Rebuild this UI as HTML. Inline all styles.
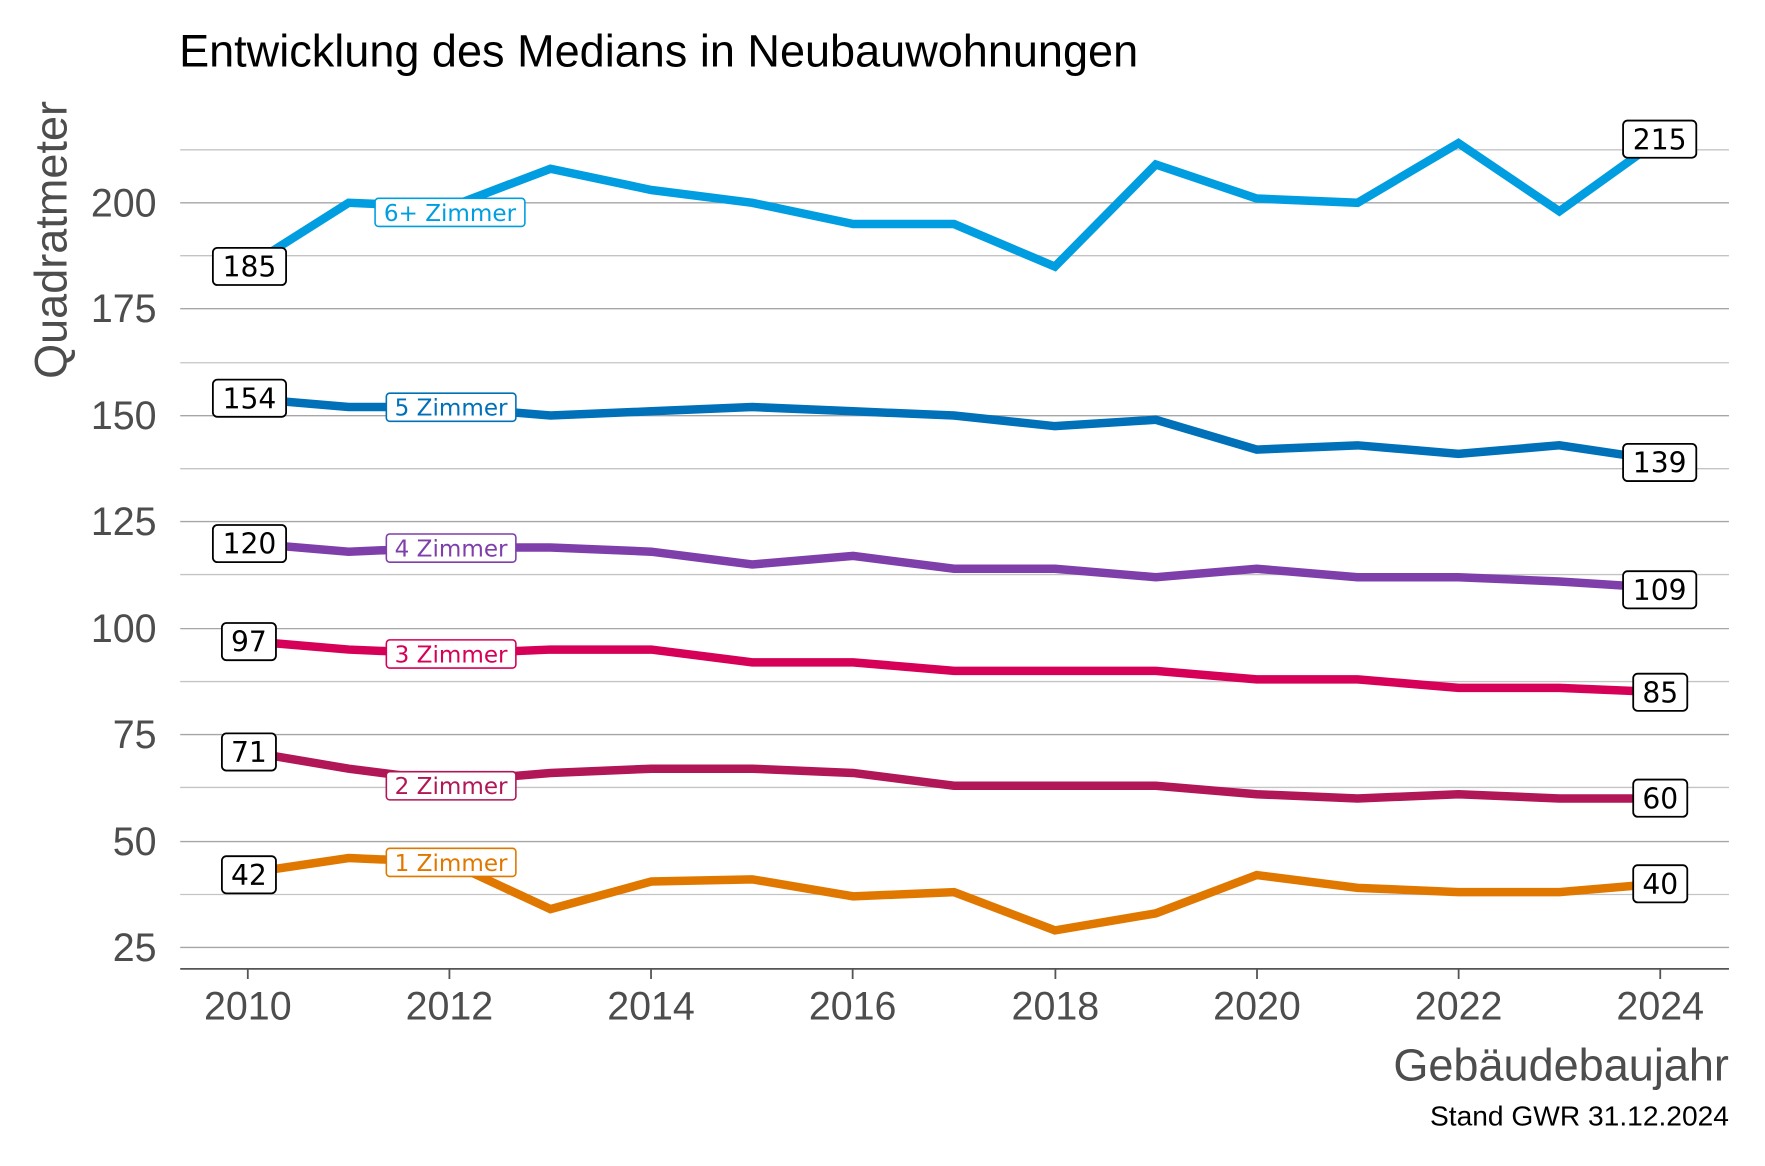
<!DOCTYPE html>
<html><head><meta charset="utf-8"><style>
html,body{margin:0;padding:0;background:#fff;}
svg{display:block;}
.tk{font-family:"Liberation Sans",sans-serif;font-size:35px;fill:#4d4d4d;}
.vl{font-family:"DejaVu Sans",sans-serif;font-size:25px;fill:#000;}
.nl{font-family:"DejaVu Sans",sans-serif;font-size:20.5px;}
</style></head><body>
<svg width="1765" height="1166" viewBox="0 0 1567 1035" preserveAspectRatio="none" xmlns="http://www.w3.org/2000/svg">
<rect width="1567" height="1035" fill="#fff"/>
<text x="159" y="59" font-family="Liberation Sans,sans-serif" font-size="40" fill="#000">Entwicklung des Medians in Neubauwohnungen</text>
<text transform="translate(59,213) rotate(-90)" text-anchor="middle" font-family="Liberation Sans,sans-serif" font-size="40" fill="#4d4d4d">Quadratmeter</text>
<g stroke-width="1.2">
<line x1="160" x2="1535" y1="133" y2="133" stroke="#c4c4c4"/>
<line x1="160" x2="1535" y1="227" y2="227" stroke="#c4c4c4"/>
<line x1="160" x2="1535" y1="322" y2="322" stroke="#c4c4c4"/>
<line x1="160" x2="1535" y1="416" y2="416" stroke="#c4c4c4"/>
<line x1="160" x2="1535" y1="510" y2="510" stroke="#c4c4c4"/>
<line x1="160" x2="1535" y1="605" y2="605" stroke="#c4c4c4"/>
<line x1="160" x2="1535" y1="699" y2="699" stroke="#c4c4c4"/>
<line x1="160" x2="1535" y1="794" y2="794" stroke="#c4c4c4"/>
<line x1="160" x2="1535" y1="180" y2="180" stroke="#a6a6a6"/>
<line x1="160" x2="1535" y1="274" y2="274" stroke="#a6a6a6"/>
<line x1="160" x2="1535" y1="369" y2="369" stroke="#a6a6a6"/>
<line x1="160" x2="1535" y1="463" y2="463" stroke="#a6a6a6"/>
<line x1="160" x2="1535" y1="558" y2="558" stroke="#a6a6a6"/>
<line x1="160" x2="1535" y1="652" y2="652" stroke="#a6a6a6"/>
<line x1="160" x2="1535" y1="747" y2="747" stroke="#a6a6a6"/>
<line x1="160" x2="1535" y1="841" y2="841" stroke="#a6a6a6"/>
</g>
<line x1="160" x2="1535" y1="860" y2="860" stroke="#555" stroke-width="1.6"/>
<g stroke="#555" stroke-width="1.6">
<line x1="220" x2="220" y1="860" y2="869"/><line x1="399" x2="399" y1="860" y2="869"/><line x1="578" x2="578" y1="860" y2="869"/><line x1="757" x2="757" y1="860" y2="869"/><line x1="937" x2="937" y1="860" y2="869"/><line x1="1116" x2="1116" y1="860" y2="869"/><line x1="1295" x2="1295" y1="860" y2="869"/><line x1="1474" x2="1474" y1="860" y2="869"/>
</g>
<g class="tk" text-anchor="end">
<text x="139" y="192">200</text><text x="139" y="286">175</text><text x="139" y="381">150</text><text x="139" y="475">125</text><text x="139" y="570">100</text><text x="139" y="664">75</text><text x="139" y="759">50</text><text x="139" y="853">25</text>
</g>
<g class="tk" text-anchor="middle">
<text x="220" y="905">2010</text><text x="399" y="905">2012</text><text x="578" y="905">2014</text><text x="757" y="905">2016</text><text x="937" y="905">2018</text><text x="1116" y="905">2020</text><text x="1295" y="905">2022</text><text x="1474" y="905">2024</text>
</g>
<text x="1535" y="959" text-anchor="end" font-family="Liberation Sans,sans-serif" font-size="40" fill="#4d4d4d">Gebäudebaujahr</text>
<text x="1535" y="999" text-anchor="end" font-family="Liberation Sans,sans-serif" font-size="25" fill="#000">Stand GWR 31.12.2024</text>

<g transform="matrix(89.57 0 0 -3.777 220 935.4)" fill="none" stroke-linejoin="miter">
<polyline vector-effect="non-scaling-stroke" stroke="#009ee0" stroke-width="8.5" points="0,185 1,200 2,199 3,208 4,203 5,200 6,195 7,195 8,185 9,209 10,201 11,200 12,214 13,198 14,215"/>
<polyline vector-effect="non-scaling-stroke" stroke="#0070b8" stroke-width="8.5" points="0,154 1,152 2,152 3,150 4,151 5,152 6,151 7,150 8,147.5 9,149 10,142 11,143 12,141 13,143 14,139.5"/>
<polyline vector-effect="non-scaling-stroke" stroke="#7f3fab" stroke-width="8.5" points="0,120 1,118 2,119 3,119 4,118 5,115 6,117 7,114 8,114 9,112 10,114 11,112 12,112 13,111 14,109.5"/>
<polyline vector-effect="non-scaling-stroke" stroke="#d60058" stroke-width="8.5" points="0,97 1,95 2,94 3,95 4,95 5,92 6,92 7,90 8,90 9,90 10,88 11,88 12,86 13,86 14,85"/>
<polyline vector-effect="non-scaling-stroke" stroke="#b11657" stroke-width="8.5" points="0,71 1,67 2,64 3,66 4,67 5,67 6,66 7,63 8,63 9,63 10,61 11,60 12,61 13,60 14,60"/>
<polyline vector-effect="non-scaling-stroke" stroke="#e07800" stroke-width="8.5" points="0,42.5 1,46 2,45 3,34 4,40.5 5,41 6,37 7,38 8,29 9,33 10,42 11,39 12,38 13,38 14,40"/>
</g>

<g stroke="#000" stroke-width="1.6" fill="#fff">
<rect x="189" y="220" width="65" height="33" rx="4"/>
<rect x="189" y="337" width="65" height="33" rx="4"/>
<rect x="189" y="466" width="65" height="33" rx="4"/>
<rect x="197" y="553" width="48" height="33" rx="4"/>
<rect x="197" y="651" width="48" height="33" rx="4"/>
<rect x="197" y="760" width="48" height="33" rx="4"/>
<rect x="1441" y="107" width="65" height="33" rx="4"/>
<rect x="1441" y="394" width="65" height="33" rx="4"/>
<rect x="1441" y="507" width="65" height="33" rx="4"/>
<rect x="1450" y="598" width="48" height="33" rx="4"/>
<rect x="1450" y="692" width="48" height="33" rx="4"/>
<rect x="1450" y="768" width="48" height="33" rx="4"/>
</g>
<g class="vl" text-anchor="middle">
<text x="221.5" y="245.5">185</text><text x="221.5" y="362.5">154</text><text x="221.5" y="491.5">120</text><text x="221" y="578.5">97</text><text x="221" y="676.5">71</text><text x="221" y="785.5">42</text>
<text x="1473.5" y="132.5">215</text><text x="1473.5" y="419.5">139</text><text x="1473.5" y="532.5">109</text><text x="1474" y="623.5">85</text><text x="1474" y="717.5">60</text><text x="1474" y="793.5">40</text>
</g>
<g fill="#fff" stroke-width="1.4">
<rect x="333" y="176" width="133" height="25" rx="3" stroke="#009ee0"/>
<rect x="343" y="349" width="115" height="25" rx="3" stroke="#0070b8"/>
<rect x="343" y="474" width="115" height="25" rx="3" stroke="#7f3fab"/>
<rect x="343" y="568" width="115" height="25" rx="3" stroke="#d60058"/>
<rect x="343" y="685" width="115" height="25" rx="3" stroke="#b11657"/>
<rect x="343" y="753" width="115" height="25" rx="3" stroke="#e07800"/>
</g>
<g class="nl" text-anchor="middle">
<text x="399.5" y="196" fill="#009ee0">6+ Zimmer</text>
<text x="400.5" y="369" fill="#0070b8">5 Zimmer</text>
<text x="400.5" y="494" fill="#7f3fab">4 Zimmer</text>
<text x="400.5" y="588" fill="#d60058">3 Zimmer</text>
<text x="400.5" y="705" fill="#b11657">2 Zimmer</text>
<text x="400.5" y="773" fill="#e07800">1 Zimmer</text>
</g>
</svg>
</body></html>
